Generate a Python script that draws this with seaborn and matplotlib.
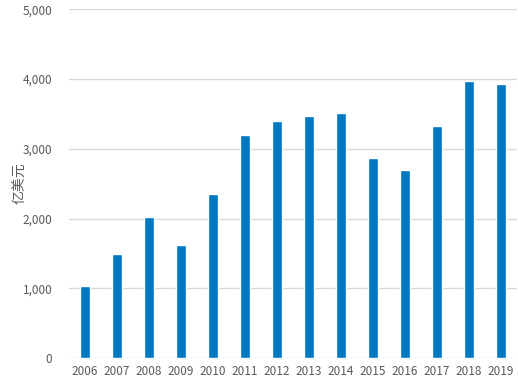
import matplotlib
matplotlib.use("Agg")
import matplotlib.pyplot as plt
import seaborn as sns
import pandas as pd
from matplotlib.ticker import FuncFormatter

# data
years = ["2006", "2007", "2008", "2009", "2010", "2011", "2012",
         "2013", "2014", "2015", "2016", "2017", "2018", "2019"]
values = [1036, 1490, 2020, 1619, 2350, 3195, 3395,
          3467, 3510, 2865, 2693, 3324, 3968, 3925]
yticks = [0, 1000, 2000, 3000, 4000, 5000]

df = pd.DataFrame({"Year": years, "Value": values})

sns.set_style("white")
plt.rcParams['font.family'] = ['Noto Sans CJK SC', 'DejaVu Sans']

fig = plt.figure(figsize=(5.18, 3.86), dpi=100)
ax = fig.add_axes([0.133, 0.0725, 0.865, 0.9035])

sns.barplot(data=df, x="Year", y="Value", color="#0078BF", saturation=1,
            width=0.33, ax=ax, zorder=3)

ax.set_ylim(0, 5000)
ax.set_yticks(yticks)
ax.yaxis.set_major_formatter(FuncFormatter(lambda v, p: f"{int(v):,}"))
ax.grid(axis="y", color="#D9D9D9", linewidth=1, zorder=0)
ax.set_axisbelow(True)
for s in ax.spines.values():
    s.set_visible(False)
ax.tick_params(axis="both", length=0, labelsize=8.5, labelcolor="#595959")
ax.tick_params(axis="y", pad=12)
ax.tick_params(axis="x", pad=5)
ax.set_xlabel("")
ax.set_ylabel("亿美元", color="#595959", fontsize=10)
ax.yaxis.set_label_coords(-0.093, 0.5)

fig.savefig("out.png", dpi=100)
